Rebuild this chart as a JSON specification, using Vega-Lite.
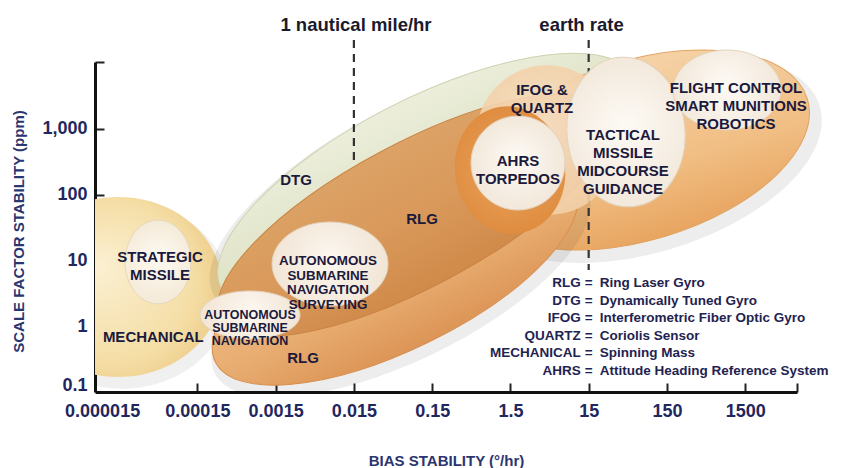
{
  "$schema": "https://vega.github.io/schema/vega-lite/v6.json",
  "width": 702,
  "height": 330,
  "autosize": "none",
  "padding": {"left": 95, "top": 62, "right": 44, "bottom": 76},
  "background": "white",
  "config": {"view": {"stroke": null}, "font": "Liberation Sans"},
  "datasets": {
    "regions": [
      {"region": "mechanical", "bias": 1.452e-5, "scale": 3.942},
      {"region": "strategic", "bias": 4.71e-5, "scale": 9.46},
      {"region": "dtg", "bias": 0.1327, "scale": 150.1},
      {"region": "ifog_range", "bias": 67.9, "scale": 476},
      {"region": "rlg_low", "bias": 0.0503, "scale": 6.21},
      {"region": "rlg", "bias": 0.0905, "scale": 49.0},
      {"region": "ifog", "bias": 4.53, "scale": 676},
      {"region": "ahrs_ring", "bias": 1.482, "scale": 236.6},
      {"region": "ahrs", "bias": 1.875, "scale": 302},
      {"region": "tactical", "bias": 44.98, "scale": 894},
      {"region": "flight", "bias": 878, "scale": 3888},
      {"region": "subnav_survey", "bias": 0.00743, "scale": 8.82},
      {"region": "subnav", "bias": 0.000706, "scale": 1.48}
    ],
    "labels": [
      {"label": "STRATEGIC\nMISSILE", "bias": 4.995e-5, "scale": 11.27},
      {"label": "MECHANICAL", "bias": 4.1e-5, "scale": 0.6855},
      {"label": "DTG", "bias": 0.002731, "scale": 166.7},
      {"label": "RLG", "bias": 0.1113, "scale": 42.6},
      {"label": "RLG", "bias": 0.003355, "scale": 0.3286},
      {"label": "IFOG &\nQUARTZ", "bias": 3.80, "scale": 3888},
      {"label": "AHRS\nTORPEDOS", "bias": 1.875, "scale": 324},
      {"label": "TACTICAL\nMISSILE\nMIDCOURSE\nGUIDANCE", "bias": 41.2, "scale": 805},
      {"label": "FLIGHT CONTROL\nSMART MUNITIONS\nROBOTICS", "bias": 1144, "scale": 4171}
    ],
    "subnav_labels": [
      {"label": "AUTONOMOUS\nSUBMARINE\nNAVIGATION\nSURVEYING", "bias": 0.0070, "scale": 9.79, "kind": "survey"},
      {"label": "AUTONOMOUS\nSUBMARINE\nNAVIGATION", "bias": 0.000706, "scale": 1.48, "kind": "nav"}
    ],
    "guides": [
      {"name": "1 nautical mile/hr", "bias": 0.015, "scale": 22360, "scale2": 302},
      {"name": "earth rate", "bias": 15, "scale": 22360, "scale2": 7.14}
    ],
    "guide_titles": [
      {"label": "1 nautical mile/hr", "bias": 0.01596, "scale": 37800},
      {"label": "earth rate", "bias": 12.15, "scale": 37800}
    ],
    "legend": [
      {"abbr": "RLG", "desc": "Ring Laser Gyro", "bias": 15, "scale": 4.535},
      {"abbr": "DTG", "desc": "Dynamically Tuned Gyro", "bias": 15, "scale": 2.449},
      {"abbr": "IFOG", "desc": "Interferometric Fiber Optic Gyro", "bias": 15, "scale": 1.323},
      {"abbr": "QUARTZ", "desc": "Coriolis Sensor", "bias": 15, "scale": 0.7148},
      {"abbr": "MECHANICAL", "desc": "Spinning Mass", "bias": 15, "scale": 0.3861},
      {"abbr": "AHRS", "desc": "Attitude Heading Reference System", "bias": 15, "scale": 0.2085}
    ]
  },
  "encoding": {
    "x": {
      "field": "bias",
      "type": "quantitative",
      "scale": {"type": "log", "domain": [7.38e-6, 6887], "nice": false},
      "axis": {
        "values": [0.000015, 0.00015, 0.0015, 0.015, 0.15, 1.5, 15, 150, 1500, 6887],
        "labelExpr": "datum.value > 5000 ? '' : format(datum.value, '~g')",
        "title": "BIAS STABILITY (°/hr)",
        "grid": false,
        "domainColor": "#111111",
        "domainWidth": 3,
        "tickColor": {"condition": {"test": "datum.value < 0.00002", "value": "transparent"}, "value": "#222222"},
        "tickWidth": 2,
        "tickSize": -9,
        "labelFont": "Liberation Sans",
        "labelFontSize": 18,
        "labelFontWeight": "bold",
        "labelColor": "#1f275e",
        "labelPadding": 19,
        "labelOffset": {"condition": {"test": "datum.value < 0.00002", "value": -17}, "value": 0},
        "labelFlush": false,
        "labelOverlap": false,
        "labelBound": false,
        "titleFont": "Liberation Sans",
        "titleFontSize": 15,
        "titleFontWeight": "bold",
        "titleColor": "#2b3570",
        "titleY": 68,
        "titleBaseline": "middle"
      }
    },
    "y": {
      "field": "scale",
      "type": "quantitative",
      "scale": {"type": "log", "domain": [0.1, 10351], "nice": false},
      "axis": {
        "values": [0.1, 1, 10, 100, 1000, 10351],
        "labelExpr": "datum.value > 5000 ? '' : format(datum.value, ',~g')",
        "title": "SCALE FACTOR STABILITY (ppm)",
        "grid": false,
        "domainColor": "#111111",
        "domainWidth": 3,
        "tickColor": {"condition": {"test": "datum.value < 0.5", "value": "transparent"}, "value": "#222222"},
        "tickWidth": 2,
        "tickSize": -9,
        "labelFont": "Liberation Sans",
        "labelFontSize": 18,
        "labelFontWeight": "bold",
        "labelColor": "#1f275e",
        "labelPadding": 17,
        "labelOffset": {"condition": {"test": "datum.value < 0.5", "value": -7}, "value": 0},
        "labelFlush": false,
        "labelOverlap": false,
        "labelBound": false,
        "titleFont": "Liberation Sans",
        "titleFontSize": 15,
        "titleFontWeight": "bold",
        "titleColor": "#2b3570",
        "titleX": -77,
        "titleY": 169,
        "titleAngle": 270,
        "titleAlign": "center",
        "titleBaseline": "middle"
      }
    }
  },
  "layer": [
    {
      "data": {"name": "regions"},
      "transform": [{"filter": "datum.region === 'mechanical'"}],
      "mark": {
        "type": "point", "clip": true, "filled": true, "opacity": 0.06, "strokeWidth": 0, "fill": "#000000",
        "xOffset": 4, "yOffset": 8,
        "shape": "M -1 0 C -1 -0.478 -0.552 -0.865 0 -0.865 C 0.552 -0.865 1 -0.478 1 0 C 1 0.478 0.552 0.865 0 0.865 C -0.552 0.865 -1 0.478 -1 0 Z",
        "size": 47000
      }
    },
    {
      "data": {"name": "regions"},
      "transform": [{"filter": "datum.region === 'mechanical'"}],
      "mark": {
        "type": "point", "clip": true, "filled": true, "opacity": 1, "strokeWidth": 0,
        "shape": "M -1 0 C -1 -0.478 -0.552 -0.865 0 -0.865 C 0.552 -0.865 1 -0.478 1 0 C 1 0.478 0.552 0.865 0 0.865 C -0.552 0.865 -1 0.478 -1 0 Z",
        "size": 43264,
        "fill": {"gradient": "radial", "x1": 0.4, "y1": 0.4, "r1": 0, "x2": 0.5, "y2": 0.5, "r2": 0.55,
          "stops": [{"offset": 0, "color": "#fbf0d3"}, {"offset": 0.7, "color": "#f5dea6"}, {"offset": 1, "color": "#ecca85"}]}
      }
    },
    {
      "data": {"name": "regions"},
      "transform": [{"filter": "datum.region === 'strategic'"}],
      "mark": {
        "type": "point", "filled": true, "opacity": 1, "stroke": "#e6d7bd", "strokeWidth": 1,
        "shape": "M -1 0 C -1 -0.701 -0.552 -1.27 0 -1.27 C 0.552 -1.27 1 -0.701 1 0 C 1 0.701 0.552 1.27 0 1.27 C -0.552 1.27 -1 0.701 -1 0 Z",
        "size": 4356,
        "fill": {"gradient": "radial", "x1": 0.5, "y1": 0.45, "r1": 0, "x2": 0.5, "y2": 0.5, "r2": 0.55,
          "stops": [{"offset": 0, "color": "#fdf9f2"}, {"offset": 1, "color": "#f3e8d4"}]}
      }
    },
    {
      "data": {"name": "regions"},
      "transform": [{"filter": "datum.region === 'dtg'"}],
      "mark": {
        "type": "point", "filled": true, "opacity": 0.07, "strokeWidth": 0, "fill": "#000000",
        "xOffset": -3, "yOffset": 3, "angle": 333,
        "shape": "M -1 0 C -1 -0.202 -0.552 -0.366 0 -0.366 C 0.552 -0.366 1 -0.202 1 0 C 1 0.202 0.552 0.366 0 0.366 C -0.552 0.366 -1 0.202 -1 0 Z",
        "size": 226000
      }
    },
    {
      "data": {"name": "regions"},
      "transform": [{"filter": "datum.region === 'dtg'"}],
      "mark": {
        "type": "point", "filled": true, "opacity": 1, "stroke": "#cfd3b0", "strokeWidth": 1,
        "shape": "M -1 0 C -1 -0.202 -0.552 -0.366 0 -0.366 C 0.552 -0.366 1 -0.202 1 0 C 1 0.202 0.552 0.366 0 0.366 C -0.552 0.366 -1 0.202 -1 0 Z",
        "size": 215296, "angle": 333,
        "fill": {"gradient": "linear", "x1": 0, "y1": 0, "x2": 0, "y2": 1,
          "stops": [{"offset": 0, "color": "#eceedb"}, {"offset": 0.5, "color": "#dfe3c6"}, {"offset": 1, "color": "#d2d7b2"}]}
      }
    },
    {
      "data": {"name": "regions"},
      "transform": [{"filter": "datum.region === 'ifog_range'"}],
      "mark": {
        "type": "point", "filled": true, "opacity": 0.07, "strokeWidth": 0, "fill": "#000000",
        "xOffset": 6, "yOffset": 9, "angle": 343,
        "shape": "M -1 0 C -1 -0.284 -0.552 -0.514 0 -0.514 C 0.552 -0.514 1 -0.284 1 0 C 1 0.284 0.552 0.514 0 0.514 C -0.552 0.514 -1 0.284 -1 0 Z",
        "size": 132000
      }
    },
    {
      "data": {"name": "regions"},
      "transform": [{"filter": "datum.region === 'ifog_range'"}],
      "mark": {
        "type": "point", "filled": true, "opacity": 1, "stroke": "#e0a260", "strokeWidth": 1,
        "shape": "M -1 0 C -1 -0.284 -0.552 -0.514 0 -0.514 C 0.552 -0.514 1 -0.284 1 0 C 1 0.284 0.552 0.514 0 0.514 C -0.552 0.514 -1 0.284 -1 0 Z",
        "size": 122500, "angle": 343,
        "fill": {"gradient": "linear", "x1": 0, "y1": 0, "x2": 0, "y2": 1,
          "stops": [{"offset": 0, "color": "#f5d2a6"}, {"offset": 0.6, "color": "#f1bf85"}, {"offset": 1, "color": "#e8a560"}]}
      }
    },
    {
      "data": {"name": "regions"},
      "transform": [{"filter": "datum.region === 'rlg_low'"}],
      "mark": {
        "type": "point", "clip": true, "filled": true, "opacity": 0.07, "strokeWidth": 0, "fill": "#000000",
        "xOffset": 6, "yOffset": 8, "angle": 334,
        "shape": "M -1 0 C -1 -0.21 -0.552 -0.38 0 -0.38 C 0.552 -0.38 1 -0.21 1 0 C 1 0.21 0.552 0.38 0 0.38 C -0.552 0.38 -1 0.21 -1 0 Z",
        "size": 172000
      }
    },
    {
      "data": {"name": "regions"},
      "transform": [{"filter": "datum.region === 'rlg_low'"}],
      "mark": {
        "type": "point", "clip": true, "filled": true, "opacity": 1, "stroke": "#d88f4e", "strokeWidth": 1,
        "shape": "M -1 0 C -1 -0.21 -0.552 -0.38 0 -0.38 C 0.552 -0.38 1 -0.21 1 0 C 1 0.21 0.552 0.38 0 0.38 C -0.552 0.38 -1 0.21 -1 0 Z",
        "size": 160000, "angle": 334,
        "fill": {"gradient": "linear", "x1": 0, "y1": 0, "x2": 0, "y2": 1,
          "stops": [{"offset": 0, "color": "#f0c08c"}, {"offset": 0.6, "color": "#e8ac70"}, {"offset": 1, "color": "#dc9556"}]}
      }
    },
    {
      "data": {"name": "regions"},
      "transform": [{"filter": "datum.region === 'rlg'"}],
      "mark": {
        "type": "point", "filled": true, "opacity": 1, "stroke": "#c98443", "strokeWidth": 1,
        "shape": "M -1 0 C -1 -0.181 -0.552 -0.327 0 -0.327 C 0.552 -0.327 1 -0.181 1 0 C 1 0.181 0.552 0.327 0 0.327 C -0.552 0.327 -1 0.181 -1 0 Z",
        "size": 193600, "angle": 332,
        "fill": {"gradient": "linear", "x1": 0, "y1": 0, "x2": 0, "y2": 1,
          "stops": [{"offset": 0, "color": "#dca266"}, {"offset": 0.5, "color": "#d9995a"}, {"offset": 1, "color": "#d08a4a"}]}
      }
    },
    {
      "data": {"name": "guides"},
      "mark": {"type": "rule", "stroke": "#333333", "strokeWidth": 2.2, "strokeDash": [8, 6]},
      "encoding": {"y2": {"field": "scale2"}}
    },
    {
      "data": {"name": "regions"},
      "transform": [{"filter": "datum.region === 'ifog'"}],
      "mark": {
        "type": "point", "filled": true, "opacity": 0.9, "strokeWidth": 0,
        "shape": "M -1 0 C -1 -0.575 -0.552 -1.04 0 -1.04 C 0.552 -1.04 1 -0.575 1 0 C 1 0.575 0.552 1.04 0 1.04 C -0.552 1.04 -1 0.575 -1 0 Z",
        "size": 20736, "angle": 345,
        "fill": {"gradient": "radial", "x1": 0.5, "y1": 0.4, "r1": 0, "x2": 0.5, "y2": 0.5, "r2": 0.55,
          "stops": [{"offset": 0, "color": "#f8e2c8"}, {"offset": 1, "color": "#f2cfa6"}]}
      }
    },
    {
      "data": {"name": "regions"},
      "transform": [{"filter": "datum.region === 'ahrs_ring'"}],
      "mark": {
        "type": "point", "filled": true, "opacity": 1, "strokeWidth": 0,
        "shape": "M -1 0 C -1 -0.643 -0.552 -1.164 0 -1.164 C 0.552 -1.164 1 -0.643 1 0 C 1 0.643 0.552 1.164 0 1.164 C -0.552 1.164 -1 0.643 -1 0 Z",
        "size": 12100, "angle": 350,
        "fill": {"gradient": "radial", "x1": 0.5, "y1": 0.5, "r1": 0, "x2": 0.5, "y2": 0.5, "r2": 0.55,
          "stops": [{"offset": 0, "color": "#e9a45e"}, {"offset": 1, "color": "#de8a3c"}]}
      }
    },
    {
      "data": {"name": "regions"},
      "transform": [{"filter": "datum.region === 'ahrs'"}],
      "mark": {
        "type": "point", "filled": true, "opacity": 1, "stroke": "#e3d2bd", "strokeWidth": 1,
        "shape": "M -1 0 C -1 -0.552 -0.552 -1 0 -1 C 0.552 -1 1 -0.552 1 0 C 1 0.552 0.552 1 0 1 C -0.552 1 -1 0.552 -1 0 Z",
        "size": 8836,
        "fill": {"gradient": "radial", "x1": 0.5, "y1": 0.45, "r1": 0, "x2": 0.5, "y2": 0.5, "r2": 0.55,
          "stops": [{"offset": 0, "color": "#fdfaf5"}, {"offset": 1, "color": "#f1e6d8"}]}
      }
    },
    {
      "data": {"name": "regions"},
      "transform": [{"filter": "datum.region === 'tactical'"}],
      "mark": {
        "type": "point", "filled": true, "opacity": 1, "stroke": "#e3d2bd", "strokeWidth": 1,
        "shape": "M -1 0 C -1 -0.701 -0.552 -1.27 0 -1.27 C 0.552 -1.27 1 -0.701 1 0 C 1 0.701 0.552 1.27 0 1.27 C -0.552 1.27 -1 0.701 -1 0 Z",
        "size": 13924, "angle": 355,
        "fill": {"gradient": "radial", "x1": 0.5, "y1": 0.45, "r1": 0, "x2": 0.5, "y2": 0.5, "r2": 0.55,
          "stops": [{"offset": 0, "color": "#fdfaf5"}, {"offset": 1, "color": "#f1e6d8"}]}
      }
    },
    {
      "data": {"name": "regions"},
      "transform": [{"filter": "datum.region === 'flight'"}],
      "mark": {
        "type": "point", "filled": true, "opacity": 1, "stroke": "#e3d2bd", "strokeWidth": 1,
        "shape": "M -1 0 C -1 -0.409 -0.552 -0.741 0 -0.741 C 0.552 -0.741 1 -0.409 1 0 C 1 0.409 0.552 0.741 0 0.741 C -0.552 0.741 -1 0.409 -1 0 Z",
        "size": 11664,
        "fill": {"gradient": "radial", "x1": 0.5, "y1": 0.45, "r1": 0, "x2": 0.5, "y2": 0.5, "r2": 0.55,
          "stops": [{"offset": 0, "color": "#fdfaf5"}, {"offset": 1, "color": "#f1e6d8"}]}
      }
    },
    {
      "data": {"name": "regions"},
      "transform": [{"filter": "datum.region === 'subnav_survey'"}],
      "mark": {
        "type": "point", "filled": true, "opacity": 1, "stroke": "#e3d2bd", "strokeWidth": 1,
        "shape": "M -1 0 C -1 -0.4 -0.552 -0.724 0 -0.724 C 0.552 -0.724 1 -0.4 1 0 C 1 0.4 0.552 0.724 0 0.724 C -0.552 0.724 -1 0.4 -1 0 Z",
        "size": 13456,
        "fill": {"gradient": "radial", "x1": 0.5, "y1": 0.45, "r1": 0, "x2": 0.5, "y2": 0.5, "r2": 0.55,
          "stops": [{"offset": 0, "color": "#fcf7f0"}, {"offset": 1, "color": "#f0e3d2"}]}
      }
    },
    {
      "data": {"name": "regions"},
      "transform": [{"filter": "datum.region === 'subnav'"}],
      "mark": {
        "type": "point", "filled": true, "opacity": 1, "stroke": "#e3d2bd", "strokeWidth": 1,
        "shape": "M -1 0 C -1 -0.265 -0.552 -0.48 0 -0.48 C 0.552 -0.48 1 -0.265 1 0 C 1 0.265 0.552 0.48 0 0.48 C -0.552 0.48 -1 0.265 -1 0 Z",
        "size": 10000,
        "fill": {"gradient": "radial", "x1": 0.5, "y1": 0.45, "r1": 0, "x2": 0.5, "y2": 0.5, "r2": 0.55,
          "stops": [{"offset": 0, "color": "#fcf7f0"}, {"offset": 1, "color": "#f0e3d2"}]}
      }
    },
    {
      "data": {"name": "labels"},
      "mark": {"type": "text", "font": "Liberation Sans", "fontWeight": "bold", "fontSize": 15, "lineBreak": "\n", "lineHeight": 18, "align": "center", "baseline": "middle", "color": "#1c1a3c"},
      "encoding": {"text": {"field": "label"}}
    },
    {
      "data": {"name": "subnav_labels"},
      "transform": [{"filter": "datum.kind === 'survey'"}],
      "mark": {"type": "text", "font": "Liberation Sans", "fontWeight": "bold", "fontSize": 13.4, "lineBreak": "\n", "lineHeight": 14.7, "align": "center", "baseline": "middle", "color": "#1c1a3c"},
      "encoding": {"text": {"field": "label"}}
    },
    {
      "data": {"name": "subnav_labels"},
      "transform": [{"filter": "datum.kind === 'nav'"}],
      "mark": {"type": "text", "font": "Liberation Sans", "fontWeight": "bold", "fontSize": 12.5, "lineBreak": "\n", "lineHeight": 13, "align": "center", "baseline": "middle", "color": "#1c1a3c"},
      "encoding": {"text": {"field": "label"}}
    },
    {
      "data": {"name": "guide_titles"},
      "mark": {"type": "text", "font": "Liberation Sans", "fontWeight": "bold", "fontSize": 18.5, "align": "center", "baseline": "middle", "color": "#1a1a2e"},
      "encoding": {"text": {"field": "label"}}
    },
    {
      "data": {"name": "legend"},
      "mark": {"type": "text", "font": "Liberation Sans", "fontWeight": "bold", "fontSize": 13.5, "align": "right", "baseline": "middle", "dx": -8, "color": "#1f2350"},
      "encoding": {"text": {"field": "abbr"}}
    },
    {
      "data": {"name": "legend"},
      "mark": {"type": "text", "font": "Liberation Sans", "fontWeight": "bold", "fontSize": 13.5, "align": "center", "baseline": "middle", "color": "#1f2350"},
      "encoding": {"text": {"value": "="}}
    },
    {
      "data": {"name": "legend"},
      "mark": {"type": "text", "font": "Liberation Sans", "fontWeight": "bold", "fontSize": 13.5, "align": "left", "baseline": "middle", "dx": 11, "color": "#1f2350"},
      "encoding": {"text": {"field": "desc"}}
    }
  ]
}
